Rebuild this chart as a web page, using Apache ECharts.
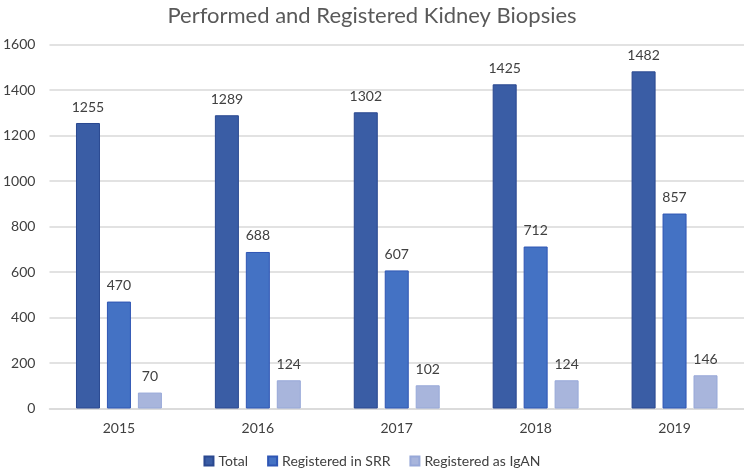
<!DOCTYPE html>
<html><head><meta charset="utf-8">
<script src="https://cdn.jsdelivr.net/npm/echarts@6/dist/echarts.min.js"></script>
<style>html,body{margin:0;padding:0;background:#fff}#c{width:744px;height:474px}</style>
</head><body><div id="c"></div>
<script>
const categories = ['2015','2016','2017','2018','2019'];
const totalValues = [1255,1289,1302,1425,1482];
const srrValues = [470,688,607,712,857];
const igaValues = [70,124,102,124,146];
const seriesNames = ['Total','Registered in SRR','Registered as IgAN'];
const yTicks = {min:0,max:1600,interval:200};

const font = 'Lato, "Noto Sans", sans-serif';
const chart = echarts.init(document.getElementById('c'));
const lbl = {show:true,position:'top',distance:9,color:'#404040',fontSize:14,fontFamily:font};
chart.setOption({
  animation:false,
  title:{text:'Performed and Registered Kidney Biopsies',left:'center',top:0,textStyle:{fontFamily:font,fontSize:22,fontWeight:'normal',color:'#595959'}},
  legend:{bottom:1,left:'center',itemWidth:9,itemHeight:9,itemGap:19,icon:'rect',textStyle:{fontFamily:font,fontSize:14,color:'#404040'},data:seriesNames},
  grid:{left:44,right:0,top:44.5,bottom:65.5,containLabel:false},
  xAxis:{type:'category',data:categories,axisLine:{lineStyle:{color:'#d9d9d9',width:1.5}},axisTick:{show:false},axisLabel:{fontFamily:font,fontSize:14,color:'#404040',margin:13}},
  yAxis:{type:'value',min:yTicks.min,max:yTicks.max,interval:yTicks.interval,axisLine:{show:false},axisTick:{show:false},splitLine:{lineStyle:{color:'#d9d9d9',width:1.5}},axisLabel:{fontFamily:font,fontSize:14,color:'#404040',margin:14,formatter:v=>String(v)}},
  series:[
    {name:seriesNames[0],type:'bar',data:totalValues,barWidth:24,barGap:'29%',itemStyle:{color:'#3A5DA5',borderColor:'#2A4890',borderWidth:1},label:lbl},
    {name:seriesNames[1],type:'bar',data:srrValues,barWidth:24,barGap:'29%',itemStyle:{color:'#4472C4',borderColor:'#2F56B4',borderWidth:1},label:lbl},
    {name:seriesNames[2],type:'bar',data:igaValues,barWidth:24,barGap:'29%',itemStyle:{color:'#A8B5DC',borderColor:'#97A8D8',borderWidth:1},label:lbl}
  ]
});
</script></body></html>
